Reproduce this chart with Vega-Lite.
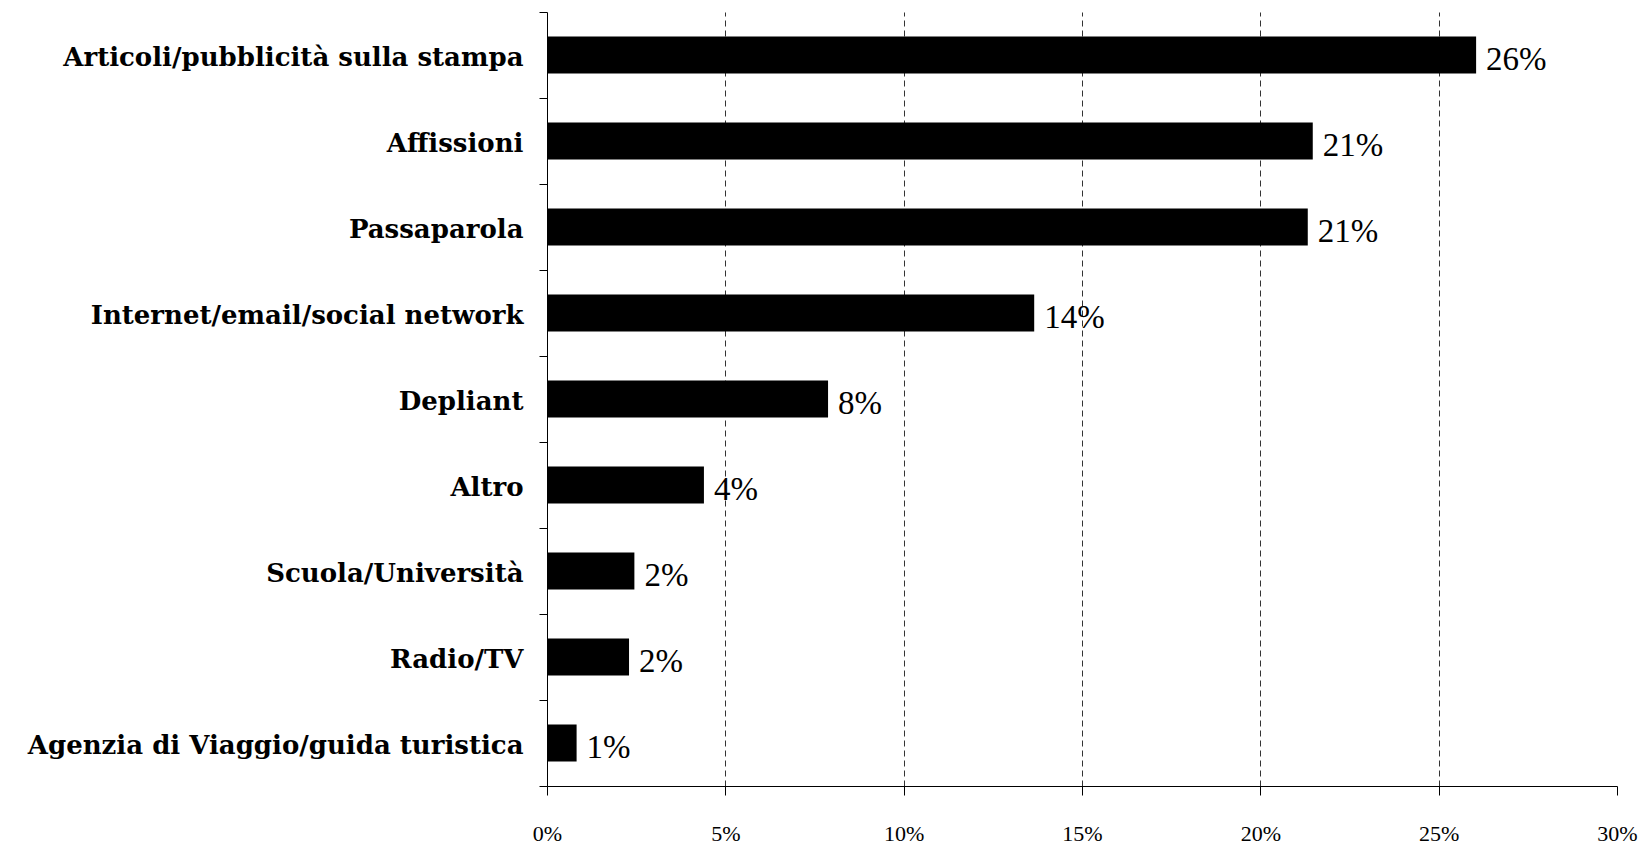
{
  "$schema": "https://vega.github.io/schema/vega-lite/v6.json",
  "width": 1070,
  "height": 774,
  "autosize": {"type": "none"},
  "padding": {"left": 547, "top": 12, "right": 33, "bottom": 65},
  "background": "white",
  "data": {
    "values": [
      {"category": "Articoli/pubblicità sulla stampa", "value": 0.2605},
      {"category": "Affissioni", "value": 0.2147},
      {"category": "Passaparola", "value": 0.2133},
      {"category": "Internet/email/social network", "value": 0.1366},
      {"category": "Depliant", "value": 0.0788},
      {"category": "Altro", "value": 0.044},
      {"category": "Scuola/Università", "value": 0.0245},
      {"category": "Radio/TV", "value": 0.023},
      {"category": "Agenzia di Viaggio/guida turistica", "value": 0.0083}
    ]
  },
  "config": {
    "view": {"stroke": null},
    "axis": {"domainColor": "#000", "tickColor": "#000"}
  },
  "encoding": {
    "y": {
      "field": "category",
      "type": "nominal",
      "sort": null,
      "title": null,
      "scale": {"paddingInner": 0, "paddingOuter": 0},
      "axis": {
        "tickBand": "extent",
        "tickSize": 8,
        "labelPadding": 16,
        "labelOffset": 2,
        "labelFont": "DejaVu Serif",
        "labelFontWeight": "bold",
        "labelFontSize": 26,
        "labelColor": "#000",
        "labelLimit": 600,
        "domainWidth": 1,
        "grid": false
      }
    },
    "x": {
      "field": "value",
      "type": "quantitative",
      "title": null,
      "scale": {"domain": [0, 0.3], "nice": false},
      "axis": {
        "values": [0, 0.05, 0.1, 0.15, 0.2, 0.25, 0.3],
        "format": ".0%",
        "tickSize": 9,
        "labelPadding": 28,
        "labelFont": "Liberation Serif",
        "labelFontSize": 22,
        "labelColor": "#000",
        "labelFlush": false,
        "grid": true,
        "gridColor": "#333",
        "gridDash": [6, 4],
        "gridWidth": 1,
        "gridOpacity": {"condition": {"test": "datum.value <= 0 || datum.value >= 0.3", "value": 0}, "value": 1}
      }
    }
  },
  "layer": [
    {"mark": {"type": "bar", "color": "#000", "height": {"band": 0.43}}},
    {
      "mark": {"type": "text", "align": "left", "baseline": "middle", "dx": 10, "dy": 5, "font": "Liberation Serif", "fontSize": 33, "color": "#000"},
      "encoding": {"text": {"field": "value", "type": "quantitative", "format": ".0%"}}
    }
  ]
}
